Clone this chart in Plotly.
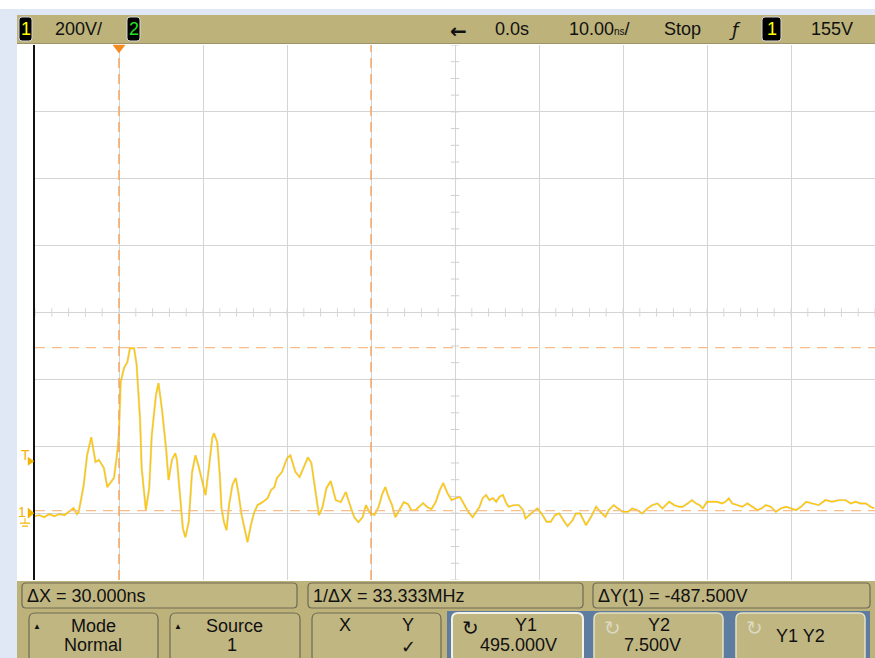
import plotly.graph_objects as go

# ---------------- Channel 1 record (time in ns, amplitude in V) ----------------
t_ns = [-10.0, -9.5, -8.9, -8.3, -7.7, -7.1, -6.5, -6.0, -5.4, -5.0, -4.8, -4.2, -3.8, -3.3,
        -3.0, -2.8, -2.4, -1.8, -1.4, -1.0, -0.6, -0.2, 0.0, 0.2, 0.6, 1.0, 1.3, 1.8, 2.1, 2.5,
        2.7, 3.2, 3.6, 3.9, 4.4, 4.7, 5.1, 5.6, 5.9, 6.3, 6.7, 6.9, 7.3, 7.6, 7.9, 8.3, 8.7,
        9.1, 9.5, 9.9, 10.3, 10.7, 11.1, 11.3, 11.7, 12.0, 12.2, 12.5, 12.8, 13.1, 13.5, 13.9,
        14.2, 14.6, 15.0, 15.3, 15.7, 16.1, 16.5, 17.1, 17.7, 18.1, 18.5, 18.8, 19.4, 19.8,
        20.0, 20.4, 21.0, 21.5, 22.0, 22.5, 22.9, 23.3, 23.8, 24.2, 24.7, 25.2, 25.8, 26.4,
        27.0, 27.5, 28.0, 28.5, 29.0, 29.4, 29.8, 30.4, 30.9, 31.3, 31.7, 32.1, 32.5, 32.9,
        33.4, 33.9, 34.4, 34.8, 35.3, 35.7, 36.2, 36.7, 37.2, 37.7, 38.2, 38.6, 39.1, 39.6,
        40.1, 40.6, 41.1, 41.6, 42.1, 42.5, 42.9, 43.3, 43.7, 44.1, 44.5, 44.9, 45.3, 45.7,
        46.1, 46.4, 47.0, 47.6, 48.1, 48.4, 48.8, 49.3, 49.8, 50.3, 50.9, 51.4, 51.9, 52.4,
        52.9, 53.4, 54.0, 54.4, 54.9, 55.4, 55.6, 56.2, 56.8, 57.3, 57.9, 58.3, 58.9, 59.4,
        60.0, 60.6, 61.1, 61.7, 62.3, 62.9, 63.5, 64.1, 64.7, 65.5, 66.1, 66.7, 67.1, 67.7,
        68.2, 68.7, 69.1, 69.5, 70.0, 70.6, 71.2, 71.8, 72.2, 72.6, 73.0, 73.6, 74.2, 74.8,
        75.4, 76.0, 76.5, 77.0, 77.6, 78.2, 78.8, 79.4, 80.0, 80.6, 81.2, 81.8, 82.5, 83.3,
        84.1, 84.9, 85.7, 86.5, 87.1, 87.7, 88.3, 88.9, 89.5, 89.9]
v_volts = [-9, -6, -12, -3, -9, -3, -6, 3, 15, -3, 3, 84, 173, 227,
           173, 153, 159, 135, 78, 90, 105, 182, 242, 392, 434, 452, 493, 493, 443, 284,
           135, 9, 75, 233, 353, 389, 314, 194, 99, 159, 179, 159, 54, -45, -72, -27, 123,
           173, 138, 93, 54, 135, 224, 239, 212, 114, 15, -27, -51, 24, 84, 105,
           63, -6, -57, -87, -36, 3, 24, 33, 45, 69, 78, 105, 123, 150,
           164, 173, 123, 108, 138, 167, 150, 75, -6, 15, 75, 96, 39, 33,
           63, 24, -12, -27, -12, 24, 3, -6, 18, 54, 78, 48, 24, -12,
           9, 33, 27, 9, 9, 18, 30, 18, 12, 33, 69, 90, 60, 39,
           45, 48, 24, 3, -12, 3, 18, 45, 54, 39, 45, 34, 49, 54,
           30, 19, 24, 24, 9, -16, -6, 4, 14, -1, -26, -26, -6, -1,
           -21, -39, -21, -1, -1, -26, -36, -11, 19, 4, -11, 9, 24, 14,
           4, 4, 14, 9, -1, 14, 24, 29, 14, 34, 24, 19, 19, 29,
           39, 29, 24, 14, 34, 34, 34, 29, 34, 44, 29, 24, 19, 29,
           19, 9, 14, 24, 19, 4, 14, 19, 14, 9, 19, 34, 29, 24,
           39, 34, 39, 39, 29, 34, 29, 29, 19, 14]

# ---------------- Front-panel settings ----------------
volts_per_div = 200
ns_per_div = 10
time_ref = "0.0s"
trigger_level = 155
x1_cursor, x2_cursor = 0.0, 30.0
y1_cursor, y2_cursor = 495.0, 7.5

V_MIN, V_MAX = -volts_per_div, 7 * volts_per_div
T_MIN, T_MAX = -ns_per_div, 9 * ns_per_div

W, H = 875, 658
L, R, T, B = 35, 875, 45, 580          # plot window in screen pixels

FONT = "Liberation Sans, Arial, sans-serif"
KHAKI = "#bcb27a"
PANEL_BLUE = "#dfe8f4"
TRACE = "#ffc800"
CURSOR = "#f7a35c"
MARKER = "#f2b300"


def P(px, py):
    """screen pixel -> paper coordinate string"""
    return f"{(px - L) / (R - L):.5f},{(B - py) / (B - T):.5f}"


def px_x(px):
    return (px - L) / (R - L)


def px_y(py):
    return (B - py) / (B - T)


def rrect(x0, y0, x1, y1, r, fill, line, lw=1.2):
    path = (f"M{P(x0 + r, y0)} L{P(x1 - r, y0)} Q{P(x1, y0)} {P(x1, y0 + r)} "
            f"L{P(x1, y1 - r)} Q{P(x1, y1)} {P(x1 - r, y1)} L{P(x0 + r, y1)} "
            f"Q{P(x0, y1)} {P(x0, y1 - r)} L{P(x0, y0 + r)} Q{P(x0, y0)} {P(x0 + r, y0)} Z")
    return dict(type="path", xref="paper", yref="paper", path=path,
                fillcolor=fill, line=dict(color=line, width=lw), layer="above")


def box(x0, y0, x1, y1, fill, line_color=None, lw=0):
    return dict(type="rect", xref="paper", yref="paper",
                x0=px_x(x0), x1=px_x(x1), y0=px_y(y1), y1=px_y(y0),
                fillcolor=fill, line=dict(color=line_color or fill, width=lw), layer="above")


def tri(points, color):
    path = "M" + " L".join(P(x, y) for x, y in points) + " Z"
    return dict(type="path", xref="paper", yref="paper", path=path,
                fillcolor=color, line=dict(color=color, width=0.5), layer="above")


def seg(x0, y0, x1, y1, color, w=1.2):
    return dict(type="line", xref="paper", yref="paper",
                x0=px_x(x0), y0=px_y(y0), x1=px_x(x1), y1=px_y(y1),
                line=dict(color=color, width=w), layer="above")


annotations = []


def text(s, px, py, size=18, color="#111", anchor="center", family=FONT):
    annotations.append(dict(text=s, x=px_x(px), y=px_y(py), xref="paper", yref="paper",
                            xanchor=anchor, yanchor="middle", showarrow=False,
                            font=dict(family=family, size=size, color=color)))


fig = go.Figure()

# minor ticks on the centre graticule lines
t_center = (T_MIN + T_MAX) / 2
v_center = (V_MIN + V_MAX) / 2
minor_t = [T_MIN + i * ns_per_div / 5 for i in range(0, 51)]
minor_v = [V_MIN + i * volts_per_div / 4 for i in range(0, 33)]
fig.add_trace(go.Scatter(x=minor_t, y=[v_center] * len(minor_t), mode="markers",
                         marker=dict(symbol="line-ns", size=6, line=dict(color="#d6d6d6", width=1)),
                         hoverinfo="skip", showlegend=False))
fig.add_trace(go.Scatter(x=[t_center] * len(minor_v), y=minor_v, mode="markers",
                         marker=dict(symbol="line-ew", size=6, line=dict(color="#d0d0d0", width=1)),
                         hoverinfo="skip", showlegend=False))

# channel 1 waveform (faint persistence underneath, bright trace on top)
fig.add_trace(go.Scatter(x=t_ns, y=v_volts, mode="lines",
                         line=dict(color="rgba(130,130,130,0.22)", width=2.4),
                         hoverinfo="skip", showlegend=False))
fig.add_trace(go.Scatter(x=t_ns, y=v_volts, mode="lines",
                         line=dict(color=TRACE, width=1.4), showlegend=False))

shapes = []
# cursors
for tc in (x1_cursor, x2_cursor):
    shapes.append(dict(type="line", xref="x", yref="paper", x0=tc, x1=tc, y0=0, y1=1,
                       line=dict(color=CURSOR, width=1.4, dash="10px,6px"), layer="above"))
for vc in (y1_cursor, y2_cursor):
    shapes.append(dict(type="line", xref="paper", yref="y", x0=0, x1=1, y0=vc, y1=vc,
                       line=dict(color="#f9bd8a", width=1.4, dash="10px,7px"), layer="above"))

# page chrome
shapes.append(box(0, 9, W, 15, PANEL_BLUE))
shapes.append(box(0, 9, 17, H, PANEL_BLUE))
shapes.append(box(17, 15, W, 43, KHAKI))
shapes.append(seg(17, 43.5, W, 43.5, "#9c9468", 1))
shapes.append(box(17, 581, W, H, KHAKI))
shapes.append(box(447, 611, 870, H, "#5d7c9f"))

# trigger point marker at the top of the window
tx = L + (0 - T_MIN) / (T_MAX - T_MIN) * (R - L)
shapes.append(tri([(tx - 6, T), (tx + 6, T), (tx, T + 8)], "#f58a1f"))

# ground and trigger-level markers on the left edge
gy = B - (0 - V_MIN) / (V_MAX - V_MIN) * (B - T)
ty = B - (trigger_level - V_MIN) / (V_MAX - V_MIN) * (B - T)
shapes.append(tri([(28, gy - 5), (28, gy + 5), (34, gy)], MARKER))
shapes.append(tri([(28, ty - 4), (28, ty + 4), (34, ty)], MARKER))
shapes.append(seg(25, gy + 5, 25, gy + 10, MARKER, 1))
shapes.append(seg(20, gy + 10, 30, gy + 10, MARKER, 1.2))
shapes.append(seg(22, gy + 13, 28, gy + 13, MARKER, 1.2))
text("1", 22, gy - 1, size=14, color=MARKER)
text("T", 25, ty - 6, size=14, color=MARKER)

# ---- header bar ----
shapes.append(rrect(19, 17, 32, 41, 3, "#000", "#d8d8d8", 1))
text("1", 25.5, 29, color="#ffff00")
text(f"{volts_per_div}V/", 78, 29)
shapes.append(rrect(127, 17, 140, 41, 3, "#000", "#d8d8d8", 1))
text("2", 133.5, 29, color="#22e022")
text("<b>←</b>", 458, 31, size=20, family="DejaVu Sans, sans-serif")
text(time_ref, 512, 29)
text(f"{ns_per_div:.2f}<span style='font-size:10px'>ns</span>/", 599, 29)
text("Stop", 682, 29)
text("<i>ƒ</i>", 735, 29, family="DejaVu Sans, sans-serif")
shapes.append(rrect(762, 17, 781, 41, 3, "#000", "#d8d8d8", 1))
text("1", 771.5, 29, color="#ffff00")
text(f"{trigger_level}V", 832, 29)

# ---- measurement line ----
dx = x2_cursor - x1_cursor
dy = y2_cursor - y1_cursor
for x0, x1 in ((22, 297), (308, 583), (593, 870)):
    shapes.append(rrect(x0, 583, x1, 608, 4, "#c0b682", "#6f6a55", 1.2))
text(f"ΔX = {dx:.3f}ns", 25, 596, anchor="left")
text(f"1/ΔX = {1000 / dx:.3f}MHz", 311, 596, anchor="left")
text(f"ΔY(1) = {dy:.3f}V", 596, 596, anchor="left")

# ---- softkeys ----
for x0, x1 in ((29, 158), (170, 300), (312, 441)):
    shapes.append(rrect(x0, 613, x1, 662, 6, "#c0b682", "#6f6a55", 1.2))
shapes.append(rrect(452, 613, 583, 662, 6, "#c0b682", "#f4f2e6", 2))
for x0, x1 in ((594, 723), (736, 865)):
    shapes.append(rrect(x0, 613, x1, 662, 6, "#c0b682", "#e6e1c4", 1.5))

text("▲", 37, 626, size=8)
text("Mode", 93, 626)
text("Normal", 93, 645)
text("▲", 178, 626, size=8)
text("Source", 234, 626)
text("1", 232, 645)
text("X", 345, 625)
text("Y", 408, 625)
text("✓", 408, 646, family="DejaVu Sans, sans-serif")
text("↻", 470, 628, size=20, family="DejaVu Sans, sans-serif")
text("Y1", 526, 625)
text(f"{y1_cursor:.3f}V", 518, 645)
text("↻", 612, 628, size=20, color="#dcd8c0", family="DejaVu Sans, sans-serif")
text("Y2", 659, 625)
text(f"{y2_cursor:.3f}V", 652, 645)
text("↻", 754, 628, size=20, color="#dcd8c0", family="DejaVu Sans, sans-serif")
text("Y1 Y2", 800, 636)

fig.update_layout(
    width=W, height=H,
    margin=dict(l=L, r=W - R, t=T, b=H - B, pad=0),
    paper_bgcolor="white", plot_bgcolor="white",
    xaxis=dict(range=[T_MIN, T_MAX], dtick=ns_per_div, tick0=0, showticklabels=False,
               ticks="", showgrid=True, gridcolor="#d4d4d4", gridwidth=1,
               zeroline=False, showline=False, fixedrange=True),
    yaxis=dict(range=[V_MIN, V_MAX], dtick=volts_per_div, tick0=0, showticklabels=False,
               ticks="", showgrid=True, gridcolor="#d4d4d4", gridwidth=1,
               zeroline=False, showline=True, linecolor="#111", linewidth=1.5,
               mirror=False, fixedrange=True),
    shapes=shapes,
    annotations=annotations,
    showlegend=False,
    font=dict(family=FONT),
)

fig.write_html("out.html")
